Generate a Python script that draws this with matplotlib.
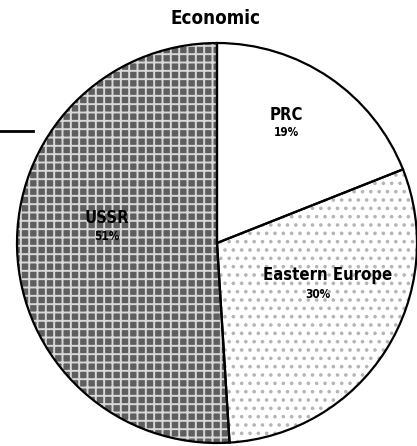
import matplotlib
matplotlib.use("Agg")
import matplotlib.pyplot as plt

# dados
rotulos = ["PRC", "Eastern Europe", "USSR"]
valores = [19, 30, 51]
percentuais = ["19%", "30%", "51%"]
cores = ["white", "white", "#5e5e5e"]
hachuras = [None, "..", "++"]
cor_hachura = ["white", "#b5b5b5", "#d8d8d8"]

plt.rcParams["font.family"] = ["DejaVu Sans"]
plt.rcParams["font.stretch"] = "condensed"
plt.rcParams["hatch.linewidth"] = 1.4

fig = plt.figure(figsize=(4.17, 4.46), dpi=100)
ax = fig.add_axes([0, 0, 1, 1])

H = 446
cx, cy, r = 217, H - 243, 200

fatias, _ = ax.pie(valores, startangle=90, counterclock=False,
                   center=(cx, cy), radius=r, colors=cores,
                   wedgeprops=dict(linewidth=0))
for w, h, hc in zip(fatias, hachuras, cor_hachura):
    if h:
        w.set_hatch(h)
        w.set_edgecolor(hc)

# contorno
ax.pie(valores, startangle=90, counterclock=False, center=(cx, cy), radius=r,
       wedgeprops=dict(fill=False, edgecolor="black", linewidth=1.6))

# traço à esquerda
ax.plot([0, 33], [H - 131, H - 131], color="black", linewidth=2)

ax.set_xlim(0, 417)
ax.set_ylim(0, H)
ax.set_aspect("equal")
ax.axis("off")

ax.text(216, H - 18, "Economic", ha="center", va="center", fontsize=13.5, fontweight="bold")

pos_rotulo = [(286, H - 115), (328, H - 275), (107, H - 218)]
pos_perc = [(286, H - 133), (318, H - 294), (107, H - 237)]
for rot, per, pr, pp in zip(rotulos, percentuais, pos_rotulo, pos_perc):
    ax.text(pr[0], pr[1], rot, ha="center", va="center", fontsize=12, fontweight="bold")
    ax.text(pp[0], pp[1], per, ha="center", va="center", fontsize=8.5, fontweight="bold")

plt.savefig("out.png", dpi=100)
plt.close()
